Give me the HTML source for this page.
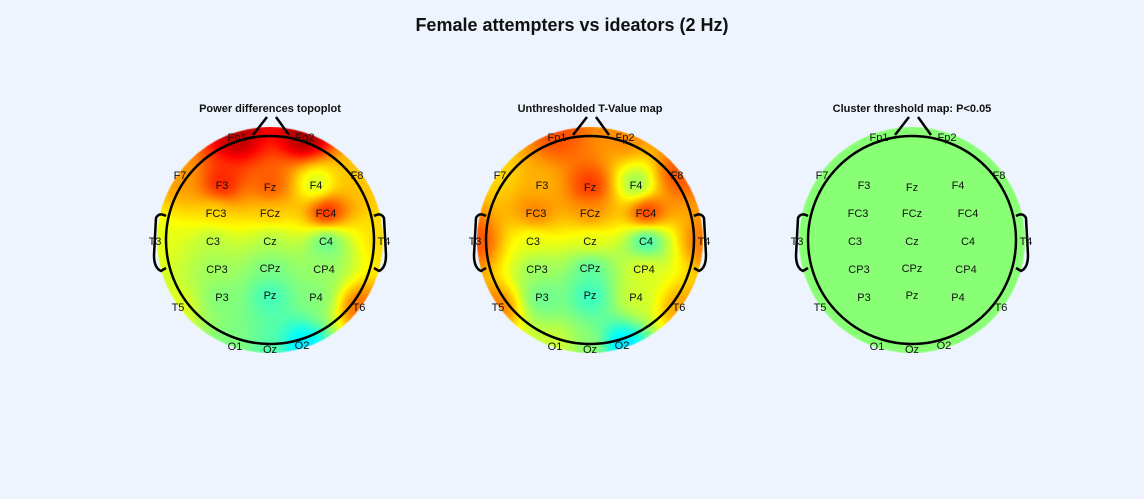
<!DOCTYPE html>
<html><head><meta charset="utf-8">
<style>
html,body{margin:0;padding:0;background:#edf4fd;}
#wrap{position:relative;width:1144px;height:499px;overflow:hidden;font-family:"Liberation Sans",Arial,sans-serif;}
canvas{position:absolute;}
svg{position:absolute;left:0;top:0;}
</style></head>
<body>
<div id="wrap">
<svg id="svg" width="1144" height="499">
<text x="572" y="31" text-anchor="middle" font-size="18" font-weight="bold" fill="#111">Female attempters vs ideators (2 Hz)</text>
</svg>
</div>
<script>
// electrode names and offsets from head center (scalp coordinates)
const electrodes = ["Fp1","Fp2","F7","F3","Fz","F4","F8","FC3","FCz","FC4","T3","C3","Cz","C4","T4","CP3","CPz","CP4","T5","P3","Pz","P4","T6","O1","Oz","O2"];
const elecX = [-33,35,-90,-48,0,46,87,-54,0,56,-115,-57,0,56,114,-53,0,54,-92,-48,0,46,89,-35,0,32];
const elecY = [-103,-103,-65,-55,-53,-55,-65,-27,-27,-27,1,1,1,1,1,29,28,29,67,57,55,57,67,106,109,105];
// map values (jet colour scale 0..1)
const powerDiff = [0.95,0.97,0.72,0.86,0.8,0.56,0.68,0.66,0.68,0.88,0.6,0.55,0.54,0.45,0.66,0.53,0.49,0.52,0.6,0.5,0.43,0.5,0.78,0.5,0.46,0.34];
const tValues = [0.8,0.74,0.66,0.7,0.84,0.5,0.8,0.76,0.74,0.86,0.8,0.6,0.6,0.4,0.76,0.52,0.45,0.6,0.76,0.47,0.42,0.58,0.72,0.58,0.52,0.33];
const clusterValues = electrodes.map(()=>0.51);
const maps = [
 {name:"power-differences",title:"Power differences topoplot",cx:270,vals:powerDiff},
 {name:"t-value-map",title:"Unthresholded T-Value map",cx:590,vals:tValues},
 {name:"cluster-threshold-map",title:"Cluster threshold map: P<0.05",cx:912,vals:clusterValues}
];
const CY=240, RDISK=113, RHEAD=104;
function jet(v){
  v=Math.max(0,Math.min(1,v));
  const r=Math.max(0,Math.min(1,1.5-Math.abs(4*v-3)));
  const g=Math.max(0,Math.min(1,1.5-Math.abs(4*v-2)));
  const b=Math.max(0,Math.min(1,1.5-Math.abs(4*v-1)));
  return [r*255|0,g*255|0,b*255|0];
}
const svg=document.getElementById('svg');
const wrap=document.getElementById('wrap');
const NS="http://www.w3.org/2000/svg";
function mk(tag,attrs,name){const e=document.createElementNS(NS,tag);for(const k in attrs)e.setAttribute(k,attrs[k]);
  
  
  svg.appendChild(e);return e;}
maps.forEach(m=>{
  const cv=document.createElement('canvas');
  cv.width=2*RDISK;cv.height=2*RDISK;
  cv.style.left=(m.cx-RDISK)+'px';cv.style.top=(CY-RDISK)+'px';
  
  
  wrap.insertBefore(cv,svg);
  const ctx=cv.getContext('2d');
  const step=2;
  for(let y=0;y<2*RDISK;y+=step)for(let x=0;x<2*RDISK;x+=step){
    const dx=x+step/2-RDISK, dy=y+step/2-RDISK;
    if(dx*dx+dy*dy>(RDISK+2)*(RDISK+2))continue;
    let sw=0,sv=0;
    for(let i=0;i<electrodes.length;i++){
      const d2=(dx-elecX[i])**2+(dy-elecY[i])**2+200;
      const w=1/Math.pow(d2,1.6);sw+=w;sv+=w*m.vals[i];
    }
    const c=jet(sv/sw);
    ctx.fillStyle=`rgb(${c[0]},${c[1]},${c[2]})`;
    ctx.fillRect(x,y,step,step);
  }
  ctx.globalCompositeOperation='destination-in';
  ctx.beginPath();ctx.arc(RDISK,RDISK,RDISK,0,Math.PI*2);ctx.fill();
  mk('text',{x:m.cx,y:112,'text-anchor':'middle','font-size':11,'font-weight':'bold',fill:'#111'},m.name+'-title').textContent=m.title;
  mk('circle',{cx:m.cx,cy:CY,r:RHEAD,fill:'none',stroke:'#000','stroke-width':2.5},m.name+'-head-outline');
  mk('polyline',{points:`${m.cx-17},135 ${m.cx-3},117`,fill:'none',stroke:'#000','stroke-width':2.5},m.name+'-nose-left');
  mk('polyline',{points:`${m.cx+6},117 ${m.cx+19},135`,fill:'none',stroke:'#000','stroke-width':2.5},m.name+'-nose-right');
  mk('path',{d:`M${m.cx-104},216 Q${m.cx-111},212 ${m.cx-114},218 L${m.cx-116},255 Q${m.cx-116},268 ${m.cx-109},271 L${m.cx-104},268`,fill:'none',stroke:'#000','stroke-width':2.5},m.name+'-left-ear');
  mk('path',{d:`M${m.cx+104},216 Q${m.cx+111},212 ${m.cx+114},218 L${m.cx+116},255 Q${m.cx+116},268 ${m.cx+109},271 L${m.cx+104},268`,fill:'none',stroke:'#000','stroke-width':2.5},m.name+'-right-ear');
  electrodes.forEach((e,i)=>{
    mk('text',{x:m.cx+elecX[i],y:CY+elecY[i]+4,'text-anchor':'middle','font-size':11,fill:'#111'},m.name+'-label-'+e.toLowerCase()).textContent=e;
  });
});
</script>
</body></html>
